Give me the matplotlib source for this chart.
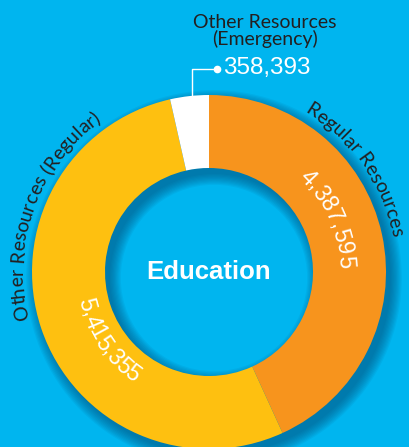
import numpy as np
import matplotlib
matplotlib.use("Agg")
import matplotlib.pyplot as plt
from matplotlib.font_manager import FontProperties, findfont, get_font
from matplotlib.patches import Wedge

# data
labels = ["Regular Resources", "Other Resources (Regular)", "Other Resources\n(Emergency)"]
values = [4387595, 5415355, 358393]
colors = ["#F7941D", "#FEC010", "#FFFFFF"]
center_label = "Education"

bg = "#00B5EF"
dark = "#231F20"
W, H = 410, 447
cx, cy = 209, H - 272
r_out, r_in = 177, 104

fig = plt.figure(figsize=(W / 100, H / 100), dpi=100)
fig.patch.set_facecolor(bg)
ax = fig.add_axes([0, 0, 1, 1])
ax.set_facecolor(bg)

# soft drop shadow (offset down-right)
for k in range(10):
    ax.add_patch(Wedge((cx + 5, cy - 6), r_out + k * 1.2, 0, 360,
                       width=(r_out - r_in) + k * 2.4,
                       facecolor="#00527E", edgecolor="none", alpha=0.08, zorder=1))

ax.pie(values, colors=colors, startangle=90, counterclock=False,
       radius=r_out, center=(cx, cy),
       wedgeprops=dict(width=r_out - r_in, linewidth=0, zorder=2))


def arc_text(s, r, theta_c, family, size, color, clockwise=True, weight="normal"):
    # lay out characters one by one along a circle around the donut centre
    fp = FontProperties(family=family, size=size, weight=weight)
    font = get_font(findfont(fp))
    font.set_size(size, 100)
    adv = [font.load_char(ord(ch)).linearHoriAdvance / 65536 for ch in s]
    total = sum(adv)
    pos = 0.0
    for ch, a in zip(s, adv):
        mid = pos + a / 2 - total / 2
        if clockwise:
            th = np.radians(theta_c) - mid / r
            rot = np.degrees(th) - 90
        else:
            th = np.radians(theta_c) + mid / r
            rot = np.degrees(th) + 90
        ax.text(cx + r * np.cos(th), cy + r * np.sin(th), ch, fontproperties=fp,
                color=color, rotation=rot, rotation_mode="anchor",
                ha="center", va="baseline", zorder=5)
        pos += a


# curved category labels
arc_text(labels[0], 186, 35, "Lato", 14, dark, clockwise=True)
arc_text(labels[1], 186, 160, "Lato", 14, dark, clockwise=True)

# curved values inside the ring
arc_text(f"{values[0]:,}", 130, 24, "Liberation Sans", 16.5, "white", clockwise=True)
arc_text(f"{values[1]:,}", 134, 214, "Liberation Sans", 16.5, "white", clockwise=False)

# emergency label with leader line
ax.text(265, H - 31, labels[2], ha="center", va="center", color=dark,
        fontsize=14, family="Lato", linespacing=0.9)
ax.text(223, H - 68, f"{values[2]:,}", ha="left", va="center", color="white",
        fontsize=17.5, family="Liberation Sans")
ax.plot([192, 192, 217], [H - 97, H - 69, H - 69], color="white", lw=1, zorder=6)
ax.plot([217], [H - 69], "o", color="white", ms=4.5, zorder=6)

ax.text(cx, cy, center_label, ha="center", va="center", color="white",
        fontsize=18.5, fontweight="bold", family="Liberation Sans", zorder=5)

ax.set_xlim(0, W)
ax.set_ylim(0, H)
ax.set_aspect("equal")
ax.axis("off")
fig.savefig("out.png", dpi=100, facecolor=bg)
